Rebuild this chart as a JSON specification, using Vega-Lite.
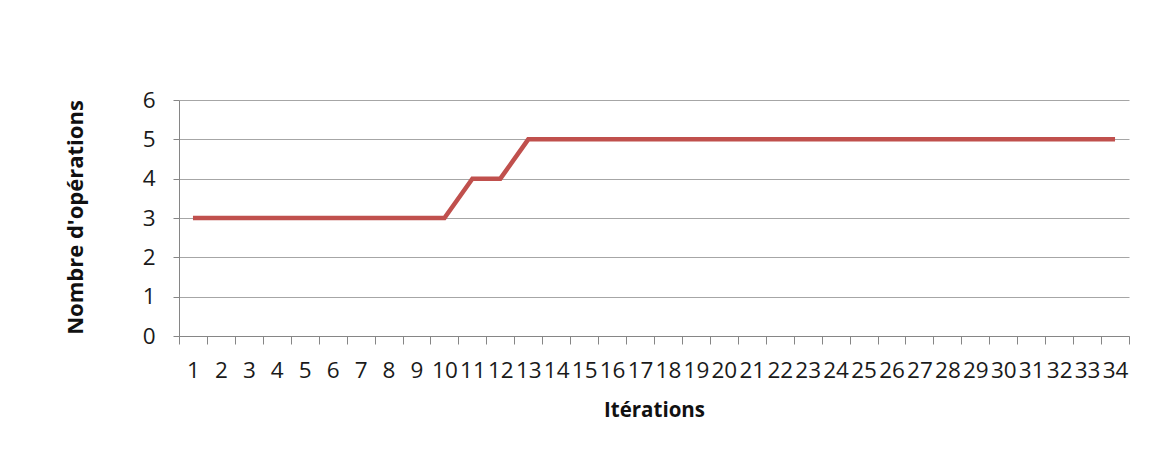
{
  "$schema": "https://vega.github.io/schema/vega-lite/v6.json",
  "width": 950,
  "height": 236,
  "autosize": {"type": "none"},
  "padding": {"left": 179, "top": 100, "right": 42, "bottom": 121},
  "background": "white",
  "config": {
    "view": {"stroke": null},
    "font": "Open Sans"
  },
  "data": {
    "values": [
      {"iteration": 1, "operations": 3}, {"iteration": 2, "operations": 3},
      {"iteration": 3, "operations": 3}, {"iteration": 4, "operations": 3},
      {"iteration": 5, "operations": 3}, {"iteration": 6, "operations": 3},
      {"iteration": 7, "operations": 3}, {"iteration": 8, "operations": 3},
      {"iteration": 9, "operations": 3}, {"iteration": 10, "operations": 3},
      {"iteration": 11, "operations": 4}, {"iteration": 12, "operations": 4},
      {"iteration": 13, "operations": 5}, {"iteration": 14, "operations": 5},
      {"iteration": 15, "operations": 5}, {"iteration": 16, "operations": 5},
      {"iteration": 17, "operations": 5}, {"iteration": 18, "operations": 5},
      {"iteration": 19, "operations": 5}, {"iteration": 20, "operations": 5},
      {"iteration": 21, "operations": 5}, {"iteration": 22, "operations": 5},
      {"iteration": 23, "operations": 5}, {"iteration": 24, "operations": 5},
      {"iteration": 25, "operations": 5}, {"iteration": 26, "operations": 5},
      {"iteration": 27, "operations": 5}, {"iteration": 28, "operations": 5},
      {"iteration": 29, "operations": 5}, {"iteration": 30, "operations": 5},
      {"iteration": 31, "operations": 5}, {"iteration": 32, "operations": 5},
      {"iteration": 33, "operations": 5}, {"iteration": 34, "operations": 5}
    ]
  },
  "mark": {"type": "line", "color": "#C0504D", "strokeWidth": 4.5, "strokeJoin": "miter"},
  "encoding": {
    "x": {
      "field": "iteration",
      "type": "ordinal",
      "bandPosition": 0.5,
      "scale": {"type": "band", "paddingInner": 0, "paddingOuter": 0},
      "axis": {
        "title": "Itérations",
        "labelAngle": 0,
        "tickBand": "extent",
        "grid": false,
        "domainColor": "#868686",
        "domainWidth": 1,
        "tickColor": "#868686",
        "tickSize": 8,
        "labelFont": "Open Sans",
        "labelFontSize": 22.5,
        "labelColor": "#1a1a1a",
        "labelPadding": 15,
        "labelOverlap": false,
        "labelBound": false,
        "titleFont": "Open Sans",
        "titleFontSize": 20.5,
        "titleFontWeight": "bold",
        "titleColor": "#111111",
        "titlePadding": 19
      }
    },
    "y": {
      "field": "operations",
      "type": "quantitative",
      "scale": {"domain": [0, 6], "nice": false},
      "axis": {
        "title": "Nombre d'opérations",
        "values": [0, 1, 2, 3, 4, 5, 6],
        "format": "d",
        "grid": true,
        "gridColor": "#a6a6a6",
        "gridWidth": 1,
        "domainColor": "#868686",
        "tickColor": "#868686",
        "tickSize": 6,
        "labelFont": "Open Sans",
        "labelFontSize": 22.5,
        "labelColor": "#1a1a1a",
        "labelPadding": 18,
        "titleFont": "Open Sans",
        "titleFontSize": 22,
        "titleFontWeight": "bold",
        "titleColor": "#111111",
        "titleX": -104,
        "titleY": 117,
        "titleAngle": -90,
        "titleAlign": "center",
        "titleBaseline": "middle"
      }
    }
  }
}
